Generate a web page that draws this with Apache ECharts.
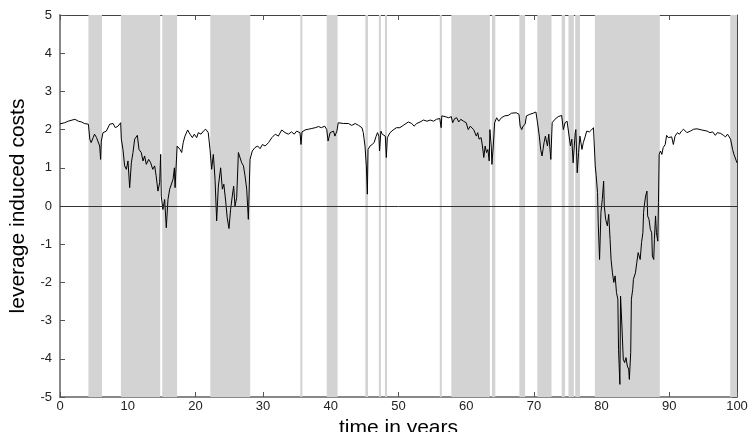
<!DOCTYPE html>
<html>
<head>
<meta charset="utf-8">
<script src="https://cdn.jsdelivr.net/npm/echarts@6/dist/echarts.min.js"></script>
<style>
  html, body { margin: 0; padding: 0; background: #fff; }
  #main { width: 749px; height: 432px; }
</style>
</head>
<body>
<div id="main"></div>
<script>
// shaded periods (start, end) in years
var bandStart = [4.2, 9.0, 15.1, 22.2, 35.5, 39.4, 45.1, 47.1, 48.0, 56.1, 57.8, 63.8, 67.85, 70.5, 74.1, 75.1, 76.1, 79.0, 99.0];
var bandEnd   = [6.2, 14.8, 17.3, 28.1, 35.8, 41.0, 45.5, 47.4, 48.3, 56.4, 63.5, 64.3, 68.7, 72.6, 74.6, 75.9, 76.8, 88.6, 100];

// leverage induced costs over time
var years = [0, 0.7, 1.2, 2.2, 2.7, 3.2, 3.6, 4.2, 4.4, 4.6, 4.9, 5.1, 5.4, 5.6, 5.86, 6.0, 6.1, 6.35, 6.84, 7.34, 7.83, 8.17, 8.57, 8.96,
  9.06, 9.3, 9.55, 9.8, 10.04, 10.29, 10.54, 10.78, 11.03, 11.42, 11.67, 12.0, 12.26, 12.5, 12.75, 13.1, 13.4, 13.7, 13.98, 14.2, 14.47, 14.72, 14.87, 14.96,
  15.2, 15.46, 15.7, 15.95, 16.2, 16.45, 16.7, 16.9, 17.0, 17.1, 17.3, 17.73, 17.97, 18.2, 18.46, 18.86, 19.2, 19.55, 19.84, 20.19, 20.43, 20.83, 21.17, 21.52, 21.9,
  22.16, 22.4, 22.65, 22.9, 23.14, 23.39, 23.73, 23.98, 24.2, 24.47, 24.7, 24.96, 25.2, 25.45, 25.65, 25.85, 26.1, 26.35, 26.6, 26.84, 27.1, 27.33, 27.58, 27.82,
  28.07, 28.4, 28.8, 29.2, 29.55, 29.9, 30.3, 30.8, 31.3, 31.8, 32.25, 32.75, 33.25, 33.73, 34.2, 34.6, 34.95, 35.45, 35.6, 35.75, 36.2, 36.7, 37.2, 37.7, 38.2, 38.6,
  39.1, 39.4, 39.6, 39.9, 40.1, 40.4, 40.6, 40.9, 41.1, 41.85, 42.6, 43.1, 43.6, 44.1, 44.6, 44.8, 45.05, 45.25, 45.4, 45.5, 45.8, 46.1, 46.4, 46.7, 46.9, 47.1, 47.2,
  47.4, 47.6, 47.86, 48.05, 48.2, 48.35, 48.75, 49.2, 49.7, 50.2, 50.7, 51.45, 51.95, 52.3, 52.7, 53.2, 53.7, 54.2, 54.7, 55.2, 55.6, 56.1, 56.3, 56.4, 56.9, 57.4,
  57.8, 58.0, 58.3, 58.6, 58.9, 59.2, 59.6, 60.0, 60.3, 60.6, 60.8, 61.1, 61.3, 61.5, 61.7, 61.9, 62.2, 62.4, 62.6, 62.8, 63.0, 63.2, 63.4, 63.5, 63.7, 63.8, 64.0,
  64.2, 64.5, 64.8, 65.2, 65.7, 66.2, 66.7, 67.4, 67.8, 67.97, 68.2, 68.4, 68.7, 68.9, 69.4, 69.9, 70.3, 70.5, 70.8, 71.0, 71.2, 71.5, 71.7, 72.0, 72.2, 72.5, 72.7,
  73.1, 73.6, 74.1, 74.35, 74.6, 74.9, 75.2, 75.4, 75.6, 75.8, 76.1, 76.2, 76.4, 76.6, 76.8, 77.1, 77.3, 77.6, 77.8, 78.2, 78.5, 78.8, 78.95, 79.06, 79.2, 79.4,
  79.5, 79.7, 79.9, 80.1, 80.3, 80.4, 80.6, 80.85, 81.05, 81.25, 81.4, 81.6, 81.8, 82.0, 82.2, 82.4, 82.5, 82.7, 82.8, 83.0, 83.2, 83.4, 83.6, 83.8, 84.0, 84.1,
  84.3, 84.4, 84.6, 84.7, 84.9, 85.0, 85.2, 85.4, 85.7, 85.9, 86.1, 86.2, 86.3, 86.5, 86.7, 86.8, 87.0, 87.2, 87.4, 87.5, 87.7, 87.8, 87.97, 88.1, 88.3, 88.4,
  88.5, 88.7, 88.9, 89.1, 89.4, 89.6, 89.85, 90.1, 90.35, 90.6, 90.85, 91.2, 91.5, 91.8, 92.1, 92.3, 92.6, 93.1, 93.6, 94.1, 94.8, 95.6, 96.0, 96.4, 96.8, 97.1,
  97.6, 98.0, 98.3, 98.6, 98.85, 99.05, 99.35, 99.55, 99.75, 100];
var costs = [2.15, 2.18, 2.22, 2.27, 2.22, 2.2, 2.16, 2.14, 1.75, 1.66, 1.79, 1.88, 1.79, 1.83, 1.57, 1.22, 1.7, 1.92, 1.96, 2.14, 2.16, 2.05, 2.09, 2.18,
  1.75, 1.48, 1.05, 0.96, 1.18, 0.48, 1.13, 1.4, 1.75, 1.85, 1.48, 1.4, 1.18, 1.31, 1.09, 1.22, 1.13, 0.96, 1.05, 0.79, 0.39, 0.61, 1.35, 0.26,
  -0.09, 0.17, -0.57, 0.17, 0.44, 0.39, 0.7, 1.0, 0.48, 0.52, 1.57, 1.48, 1.4, 1.66, 1.83, 1.99, 1.88, 1.79, 1.88, 1.79, 1.92, 1.88, 1.96, 2.01, 1.92,
  1.48, 0.96, 1.35, 0.7, -0.39, 0.52, 1.0, 0.44, 0.57, 0.13, -0.31, -0.59, -0.09, 0.26, 0.52, 0.0, 0.22, 1.4, 1.44, 1.13, 1.05, 0.79, 0.44, -0.35,
  1.22, 1.44, 1.53, 1.57, 1.5, 1.61, 1.57, 1.66, 1.79, 1.88, 1.83, 1.99, 1.92, 1.88, 1.94, 1.88, 1.96, 1.92, 1.61, 1.94, 1.99, 2.01, 2.03, 2.05, 2.08, 2.05,
  2.09, 2.0, 1.7, 1.92, 1.88, 1.96, 1.83, 1.96, 2.18, 2.16, 2.16, 2.11, 2.16, 2.11, 2.05, 1.92, 1.57, 1.05, 0.31, 1.48, 1.57, 1.61, 1.66, 1.83, 1.92, 1.83, 1.44,
  1.96, 1.88, 1.92, 1.83, 1.27, 1.79, 1.92, 1.99, 2.05, 2.05, 2.11, 2.2, 2.16, 2.09, 2.16, 2.2, 2.25, 2.22, 2.25, 2.22, 2.27, 2.29, 2.05, 2.36, 2.34, 2.31,
  2.34, 2.18, 2.29, 2.31, 2.2, 2.27, 2.22, 2.18, 2.0, 2.09, 2.14, 2.0, 2.05, 1.83, 1.92, 1.75, 1.79, 1.57, 1.27, 1.57, 1.4, 1.48, 1.18, 2.0, 1.57, 1.09, 1.57,
  2.18, 2.31, 2.22, 2.31, 2.36, 2.37, 2.43, 2.44, 2.4, 2.09, 2.0, 2.09, 2.14, 2.36, 2.4, 2.43, 2.46, 2.22, 1.83, 1.48, 1.31, 1.66, 1.83, 1.57, 1.88, 1.22, 2.18,
  2.27, 2.34, 2.37, 2.0, 2.18, 2.22, 1.83, 1.57, 1.75, 1.13, 1.92, 2.0, 0.87, 1.4, 1.83, 1.48, 1.66, 1.83, 1.96, 1.94, 1.99, 2.05, 2.09, 1.05, 0.79, 0.35,
  -0.44, -1.4, -0.17, 0.17, 0.65, 0.0, -0.35, -0.52, -0.22, -0.87, -1.4, -1.75, -2.0, -1.83, -2.27, -2.44, -3.75, -4.67, -2.36, -3.14, -4.01, -4.1, -3.97, -4.19, -4.27, -4.54,
  -3.84, -2.44, -2.18, -1.92, -1.96, -1.75, -1.48, -1.22, -1.4, -0.96, -0.7, -0.17, 0.0, 0.26, 0.39, -0.26, -0.35, -0.61, -0.7, -1.31, -1.4, -0.87, -0.26, -0.7, -0.92, 0.09,
  1.35, 1.44, 1.35, 1.53, 1.61, 1.85, 1.79, 1.83, 1.81, 1.61, 1.83, 1.92, 1.88, 1.96, 2.01, 2.05, 1.92, 1.96, 2.01, 2.02, 1.99, 1.96, 1.92, 1.94, 1.85, 1.92,
  1.9, 1.85, 1.81, 1.88, 1.92, 1.75, 1.48, 1.35, 1.4, 1.13];

var myChart = echarts.init(document.getElementById('main'));

var lineData = years.map(function (x, i) { return [x, costs[i]]; });
var bands = bandStart.map(function (s, i) {
  return [{ xAxis: s }, { xAxis: bandEnd[i] }];
});

var axisFont = { fontFamily: 'Liberation Sans', fontSize: 13, color: '#222' };

var option = {
  animation: false,
  grid: { left: 60, right: 12, top: 15, bottom: 35, containLabel: false, outerBoundsMode: 'none' },
  xAxis: [
    {
      type: 'value', min: 0, max: 100, interval: 10,
      name: 'time in years', nameLocation: 'middle', nameGap: 15,
      nameTextStyle: { fontFamily: 'Liberation Sans', fontSize: 21, color: '#000' },
      axisLine: { onZero: false, lineStyle: { color: '#888', width: 2 } },
      axisTick: { inside: true, length: 5, lineStyle: { color: '#555' } },
      axisLabel: Object.assign({ margin: 3 }, axisFont),
      splitLine: { show: false }
    },
    {
      type: 'value', min: 0, max: 100, interval: 10, position: 'top',
      axisLine: { onZero: false, lineStyle: { color: '#444', width: 1 } },
      axisTick: { inside: true, length: 5, lineStyle: { color: '#555' } },
      axisLabel: { show: false },
      splitLine: { show: false }
    }
  ],
  yAxis: [
    {
      type: 'value', min: -5, max: 5, interval: 1,
      name: 'leverage induced costs', nameLocation: 'middle', nameGap: 31,
      nameTextStyle: { fontFamily: 'Liberation Sans', fontSize: 21, color: '#000' },
      axisLine: { onZero: false, lineStyle: { color: '#888', width: 2 } },
      axisTick: { inside: true, length: 5, lineStyle: { color: '#555' } },
      axisLabel: Object.assign({ margin: 8 }, axisFont),
      splitLine: { show: false }
    },
    {
      type: 'value', min: -5, max: 5, interval: 1, position: 'right',
      axisLine: { onZero: false, lineStyle: { color: '#444', width: 1 } },
      axisTick: { inside: true, length: 5, lineStyle: { color: '#555' } },
      axisLabel: { show: false },
      splitLine: { show: false }
    }
  ],
  series: [
    {
      type: 'line',
      data: lineData,
      showSymbol: false,
      lineStyle: { color: '#000', width: 1 },
      markArea: {
        silent: true,
        itemStyle: { color: '#d3d3d3', opacity: 1 },
        data: bands
      },
      markLine: {
        silent: true,
        symbol: 'none',
        label: { show: false },
        lineStyle: { color: '#333', width: 1, type: 'solid' },
        data: [{ yAxis: 0 }]
      }
    }
  ]
};

myChart.setOption(option);
</script>
</body>
</html>
